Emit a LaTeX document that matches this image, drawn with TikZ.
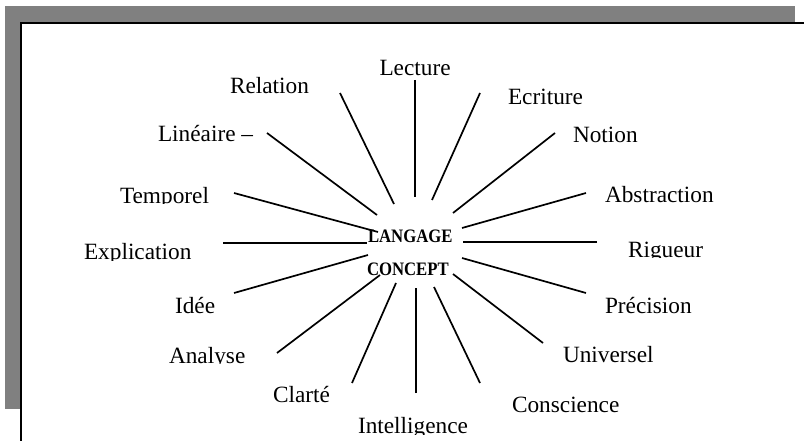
\documentclass[tikz,border=0pt]{standalone}
\usepackage{fontspec}
\setmainfont{Liberation Serif}
\begin{document}
\begin{tikzpicture}[x=1pt,y=-1pt,
  lbl/.style={anchor=base west,inner sep=0pt,outer sep=0pt,font=\fontsize{23.3}{28}\selectfont},
  core/.style={anchor=base west,inner sep=0pt,outer sep=0pt,font=\fontsize{19}{23}\selectfont\bfseries},
  spoke/.style={line width=1.7pt,black}]
\useasboundingbox (0,0) rectangle (804,441);
% frame with shadow
\fill[fill={rgb,255:red,128;green,128;blue,128}] (5,6) rectangle (795,409);
\fill[white] (21,23) rectangle (804,441);
\draw[line width=2pt] (21,441) -- (21,23) -- (804,23);
% centre texts
\node[core] (langage) at (368,243) {\scalebox{0.88}[1]{LANGAGE}};
\node[core] (concept) at (367,276) {\scalebox{0.88}[1]{CONCEPT}};
% labels
\begin{scope}\clip (300,40) rectangle (500,75.5);
\node[lbl] (lecture) at (379.5,75.4) {Lecture};\end{scope}
\node[lbl] (relation) at (230,94) {Relation};
\node[lbl] (ecriture) at (508,105) {Ecriture};
\node[lbl] (lineaire) at (158,142) {Linéaire –};
\node[lbl] (notion) at (573,143) {Notion};
\begin{scope}\clip (100,170) rectangle (240,203.5);
\node[lbl] (temporel) at (120,203.4) {Temporel};\end{scope}
\node[lbl] (abstraction) at (605,203) {Abstraction};
\begin{scope}\clip (60,225) rectangle (220,260);
\node[lbl] (explication) at (84,259.5) {Explication};\end{scope}
\begin{scope}\clip (610,225) rectangle (740,257);
\node[lbl] (rigueur) at (628,257.5) {Rigueur};\end{scope}
\node[lbl] (idee) at (175,313) {Idée};
\node[lbl] (precision) at (605,313) {Précision};
\begin{scope}\clip (150,330) rectangle (270,363);
\node[lbl] (analyse) at (169,363.5) {Analyse};\end{scope}
\node[lbl] (universel) at (563,362) {Universel};
\node[lbl] (clarte) at (273,402) {Clarté};
\begin{scope}\clip (495,380) rectangle (640,412.5);
\node[lbl] (conscience) at (512,412.5) {Conscience};\end{scope}
\begin{scope}\clip (340,400) rectangle (490,434);
\node[lbl] (intelligence) at (358,433.5) {Intelligence};\end{scope}
% spoke end points
\coordinate (lecA) at (415,80);   \coordinate (lecB) at (415,197);
\coordinate (relA) at (340,93);   \coordinate (relB) at (394,204);
\coordinate (ecrA) at (480,93);   \coordinate (ecrB) at (432,200);
\coordinate (linA) at (267,133);  \coordinate (linB) at (377,215);
\coordinate (notA) at (555,133);  \coordinate (notB) at (453,213);
\coordinate (temA) at (234,193);  \coordinate (temB) at (378,232);
\coordinate (absA) at (586,193);  \coordinate (absB) at (462,228);
\coordinate (expA) at (223,243);  \coordinate (expB) at (367,243);
\coordinate (rigA) at (597,242);  \coordinate (rigB) at (463,242);
\coordinate (ideA) at (234,293);  \coordinate (ideB) at (368,255);
\coordinate (preA) at (586,293);  \coordinate (preB) at (462,258);
\coordinate (anaA) at (277,353);  \coordinate (anaB) at (380,275);
\coordinate (uniA) at (543,343);  \coordinate (uniB) at (453,274);
\coordinate (claA) at (352,383);  \coordinate (claB) at (396,283);
\coordinate (conA) at (480,383);  \coordinate (conB) at (434,287);
\coordinate (intA) at (416,393);  \coordinate (intB) at (416,288);
% spokes
\foreach \s in {lec,rel,ecr,lin,not,tem,abs,exp,rig,ide,pre,ana,uni,cla,con,int}
  \draw[spoke] (\s A) -- (\s B);
\end{tikzpicture}
\end{document}
